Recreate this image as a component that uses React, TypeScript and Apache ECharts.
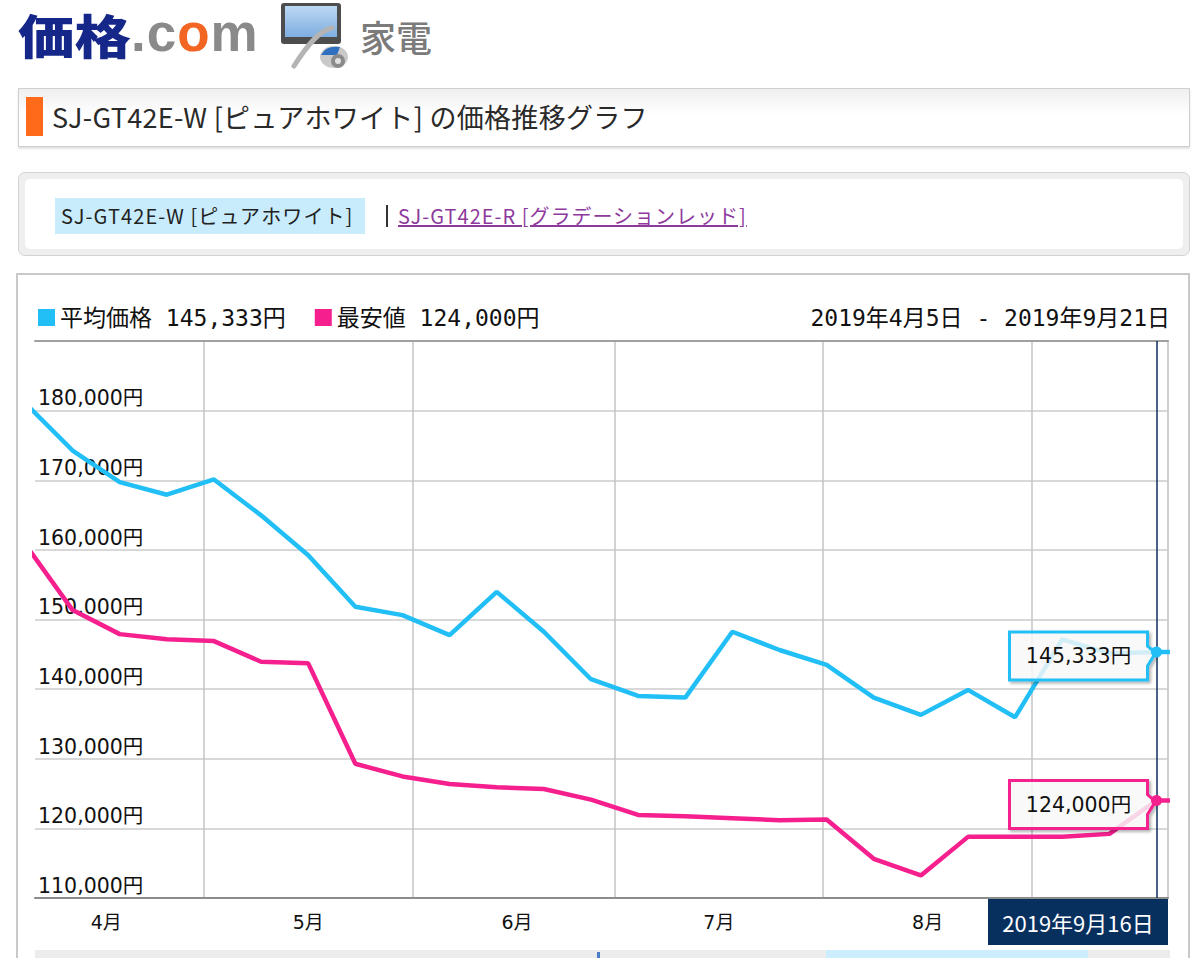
import * as echarts from 'echarts';
import { useEffect, useRef } from 'react';

// 週ごとの価格（2019年）
const weekDates = [
  '2019-04-04', '2019-04-11', '2019-04-18', '2019-04-25', '2019-05-02', '2019-05-09',
  '2019-05-16', '2019-05-23', '2019-05-30', '2019-06-06', '2019-06-13', '2019-06-20',
  '2019-06-27', '2019-07-04', '2019-07-11', '2019-07-18', '2019-07-25', '2019-08-01',
  '2019-08-08', '2019-08-15', '2019-08-22', '2019-08-29', '2019-09-05', '2019-09-12',
  '2019-09-19', '2019-09-21',
];
const avgPrice = [
  181050, 174270, 169730, 167920, 170110, 164960, 159230, 151820, 150630, 147760, 153970,
  148240, 141420, 139030, 138780, 148240, 145620, 143470, 138780, 136300, 139890, 135970,
  147150, 145100, 145333, 145333,
];
const minPrice = [
  160780, 151350, 147900, 147150, 146900, 143940, 143700, 129280, 127460, 126360, 125890,
  125650, 124130, 121930, 121740, 121460, 121170, 121260, 115630, 113240, 118780, 118780,
  118780, 119210, 124000, 124000,
];
const seriesNames = ['平均価格', '最安値'];
const seriesColors = ['#22bff6', '#f5208e'];
const monthStarts = ['2019-05-01', '2019-06-01', '2019-07-01', '2019-08-01', '2019-09-01'];
const monthLabelDays = ['2019-04-16', '2019-05-16', '2019-06-16', '2019-07-16', '2019-08-16'];
const rangeText = '2019年4月5日 - 2019年9月21日';
const pointerIndex = 24;
const pointerLabel = '2019年9月16日';

const day = (s: string, h = 12) => new Date(`${s}T${String(h).padStart(2, '0')}:00:00`).getTime();
const fmt = (n: number) => String(n).replace(/\B(?=(\d{3})+(?!\d))/g, ',');

const AXIS_MIN = day('2019-04-05', 22);
const AXIS_MAX = day('2019-09-21', 5);

const verdana = "'DejaVu Sans', 'Noto Sans CJK JP', sans-serif";
const gothic = "'Noto Sans CJK JP', sans-serif";
const mono = "'DejaVu Sans Mono', 'Noto Sans CJK JP', monospace";

function PriceChart() {
  const ref = useRef<HTMLDivElement | null>(null);

  useEffect(() => {
    if (!ref.current) return;
    const chart = echarts.init(ref.current, undefined, { renderer: 'svg' });
    const seriesData = [avgPrice, minPrice];
    const pTime = day(weekDates[pointerIndex]);

    chart.setOption({
      animation: false,
      title: {
        text: rangeText,
        right: 13,
        top: 26,
        textStyle: { fontSize: 23, fontWeight: 'normal', color: '#111', fontFamily: mono },
      },
      legend: {
        left: 20,
        top: 31,
        padding: 0,
        icon: 'rect',
        itemWidth: 17,
        itemHeight: 17,
        itemGap: 29,
        selectedMode: false,
        data: seriesNames,
        formatter: (name: string) => {
          const i = seriesNames.indexOf(name);
          return `${name} ${fmt(seriesData[i][pointerIndex])}円`;
        },
        textStyle: { fontSize: 23, color: '#111', fontFamily: mono },
      },
      grid: { left: 17, right: 20, top: 66, bottom: 60 },
      xAxis: [
        {
          type: 'value',
          min: AXIS_MIN,
          max: AXIS_MAX,
          axisLine: { lineStyle: { color: '#8c8c8c', width: 2 } },
          axisTick: { show: false, customValues: monthStarts.map((d) => day(d, 0)) },
          splitLine: { show: true, lineStyle: { color: '#c4c4c4', width: 1.5 } },
          axisLabel: {
            customValues: monthLabelDays.map((d) => day(d)),
            formatter: (v: number) => `${new Date(v).getMonth() + 1}月`,
            fontSize: 19,
            color: '#111',
            fontFamily: verdana,
            margin: 14,
          },
        },
        {
          type: 'value',
          position: 'top',
          min: AXIS_MIN,
          max: AXIS_MAX,
          axisLine: { show: true, lineStyle: { color: '#a0a0a0', width: 2 } },
          axisTick: { show: false },
          axisLabel: { show: false },
          splitLine: { show: false },
        },
      ],
      yAxis: [
        {
          type: 'value',
          min: 110000,
          max: 190000,
          interval: 10000,
          axisLine: { show: false },
          axisTick: { show: false },
          splitLine: { lineStyle: { color: '#d8d8d8', width: 2 } },
          axisLabel: {
            inside: true,
            showMaxLabel: false,
            align: 'left',
            verticalAlign: 'bottom',
            margin: 3,
            padding: [0, 0, 2, 0],
            formatter: (v: number) => `${fmt(v)}円`,
            fontSize: 20.5,
            color: '#111',
            fontFamily: verdana,
          },
        },
        {
          type: 'value',
          position: 'right',
          min: 110000,
          max: 190000,
          axisLine: { show: true, lineStyle: { color: '#cfcfcf', width: 2 } },
          axisTick: { show: false },
          axisLabel: { show: false },
          splitLine: { show: false },
        },
      ],
      series: seriesNames.map((name, i) => ({
        type: 'line',
        name,
        showSymbol: false,
        clip: true,
        color: seriesColors[i],
        lineStyle: { width: 4.5, color: seriesColors[i] },
        data: weekDates.map((d, k) => [day(d), seriesData[i][k]]),
        markPoint: {
          symbol: 'circle',
          symbolSize: 11,
          silent: true,
          label: { show: false },
          itemStyle: { color: seriesColors[i] },
          data: [{ coord: [pTime, seriesData[i][pointerIndex]] }],
        },
        markLine:
          i === 0
            ? {
                silent: true,
                symbol: ['none', 'none'],
                label: { show: false },
                lineStyle: { color: '#0b2f5e', width: 1.5, type: 'solid' },
                data: [{ xAxis: pTime }],
              }
            : undefined,
      })),
    });

    // 吹き出し・日付ラベル（座標は軸から変換）
    const graphics: any[] = [];
    seriesNames.forEach((_, i) => {
      const [mx, my] = chart.convertToPixel({ seriesIndex: i }, [
        pTime,
        seriesData[i][pointerIndex],
      ]) as number[];
      graphics.push({
        type: 'polygon',
        z: 4,
        shape: {
          points: [
            [mx - 147, my - 20],
            [mx - 9, my - 20],
            [mx - 9, my - 6],
            [mx - 1, my + 1],
            [mx - 9, my + 14],
            [mx - 9, my + 28],
            [mx - 147, my + 28],
          ],
        },
        style: {
          fill: 'rgba(255,255,255,0.78)',
          stroke: seriesColors[i],
          lineWidth: 3,
          shadowBlur: 3,
          shadowOffsetX: 2,
          shadowOffsetY: 2,
          shadowColor: 'rgba(0,0,0,0.3)',
        },
      });
      graphics.push({
        type: 'text',
        z: 4,
        x: mx - 78,
        y: my + 4,
        style: {
          text: `${fmt(seriesData[i][pointerIndex])}円`,
          fill: '#111',
          fontSize: 20.5,
          fontFamily: verdana,
          align: 'center',
          verticalAlign: 'middle',
        },
      });
    });

    const [px, axisY] = chart.convertToPixel({ xAxisIndex: 0, yAxisIndex: 0 }, [pTime, 110000]) as number[];
    const [gridRight] = chart.convertToPixel({ xAxisIndex: 0, yAxisIndex: 0 }, [AXIS_MAX, 110000]) as number[];
    const boxW = 180;
    const boxRight = Math.min(px + boxW / 2, gridRight);
    graphics.push({
      type: 'group',
      z: 4,
      children: [
        {
          type: 'rect',
          shape: { x: boxRight - boxW, y: axisY, width: boxW, height: 47 },
          style: { fill: '#08305f' },
        },
        {
          type: 'text',
          x: boxRight - boxW / 2,
          y: axisY + 24,
          style: {
            text: pointerLabel,
            fill: '#fff',
            fontSize: 22,
            fontFamily: gothic,
            align: 'center',
            verticalAlign: 'middle',
          },
        },
      ],
    });

    // 下部の期間スライダー（一部のみ見えている）
    graphics.push(
      { type: 'rect', shape: { x: 17, y: 675, width: 1135, height: 10 }, style: { fill: '#ececec' } },
      { type: 'rect', shape: { x: 808, y: 675, width: 262, height: 10 }, style: { fill: '#cdeefc' } },
      { type: 'rect', shape: { x: 579, y: 677, width: 3, height: 8 }, style: { fill: '#4a7fc8' } },
    );

    chart.setOption({ graphic: graphics });

    return () => {
      chart.dispose();
    };
  }, []);

  return <div ref={ref} style={{ width: 1170, height: 683 }} />;
}

export default function App() {
  return (
    <div
      style={{
        position: 'fixed',
        inset: 0,
        background: '#fff',
        overflow: 'hidden',
        fontFamily: gothic,
        color: '#222',
      }}
    >
      {/* ロゴ */}
      <div
        style={{
          position: 'absolute',
          left: 18,
          top: 6,
          color: '#15288a',
          fontSize: 47,
          lineHeight: '56px',
          fontWeight: 900,
          transform: 'scaleX(1.2)',
          transformOrigin: 'left center',
          whiteSpace: 'nowrap',
        }}
      >
        価格
      </div>
      <div
        style={{
          position: 'absolute',
          left: 131,
          top: 1,
          fontFamily: "'Liberation Sans', Arial, sans-serif",
          fontWeight: 700,
          fontSize: 53,
          lineHeight: '64px',
          color: '#8a8a8a',
          letterSpacing: 1,
          whiteSpace: 'nowrap',
        }}
      >
        .c<span style={{ color: '#f26522' }}>o</span>m
      </div>
      <svg style={{ position: 'absolute', left: 280, top: 2 }} width="70" height="68" viewBox="0 0 70 68">
        <defs>
          <linearGradient id="scr" x1="0" y1="0" x2="0" y2="1">
            <stop offset="0" stopColor="#bcd8f3" />
            <stop offset="1" stopColor="#7eaee0" />
          </linearGradient>
        </defs>
        <rect x="1" y="1" width="60" height="41" rx="3" fill="#4d4d4d" />
        <rect x="5" y="4" width="52" height="31" fill="url(#scr)" />
        <path d="M52 26 C40 28 28 42 14 64" stroke="#b4b4b4" strokeWidth="5" fill="none" strokeLinecap="round" />
        <ellipse cx="54" cy="55" rx="14" ry="11" fill="#c9c9c9" />
        <path d="M41 53 Q46 43 60 45 L57 53 Z" fill="#2f6fc0" />
        <circle cx="58" cy="59" r="7" fill="#8a8a8a" />
        <circle cx="58" cy="59" r="3" fill="#e0e0e0" />
      </svg>
      <div style={{ position: 'absolute', left: 360, top: 16, fontSize: 36, lineHeight: '40px', color: '#7b7b7b', fontWeight: 500 }}>
        家電
      </div>

      {/* タイトルバー */}
      <div
        style={{
          position: 'absolute',
          left: 18,
          top: 88,
          width: 1172,
          height: 59,
          boxSizing: 'border-box',
          border: '1px solid #cfcfcf',
          background: 'linear-gradient(#efefef, #fff 45%)',
          boxShadow: '0 2px 2px #e2e2e2',
        }}
      >
        <div style={{ position: 'absolute', left: 7, top: 8, width: 17, height: 39, background: '#ff6a1a' }} />
        <div style={{ position: 'absolute', left: 33, top: 9, fontSize: 27, lineHeight: '38px', color: '#2a2a2a', whiteSpace: 'nowrap', letterSpacing: 0.3 }}>
          SJ-GT42E-W [ピュアホワイト] の価格推移グラフ
        </div>
      </div>

      {/* 色違いタブ */}
      <div
        style={{
          position: 'absolute',
          left: 18,
          top: 172,
          width: 1172,
          height: 84,
          boxSizing: 'border-box',
          border: '1px solid #d2d2d2',
          borderRadius: 7,
          background: '#efefef',
          padding: 6,
        }}
      >
        <div style={{ width: '100%', height: '100%', background: '#fff', borderRadius: 5 }} />
      </div>
      <div
        style={{
          position: 'absolute',
          left: 55,
          top: 198,
          width: 310,
          height: 36,
          background: '#c8ecfb',
          fontSize: 20,
          lineHeight: '36px',
          letterSpacing: 1.1,
          paddingLeft: 6,
          boxSizing: 'border-box',
          color: '#222',
          whiteSpace: 'nowrap',
        }}
      >
        SJ-GT42E-W [ピュアホワイト]
      </div>
      <div style={{ position: 'absolute', left: 386, top: 205, width: 2, height: 22, background: '#333' }} />
      <div
        style={{
          position: 'absolute',
          left: 398,
          top: 198,
          fontSize: 20,
          lineHeight: '36px',
          letterSpacing: 1,
          color: '#8e3a9d',
          textDecoration: 'underline',
          whiteSpace: 'nowrap',
        }}
      >
        SJ-GT42E-R [グラデーションレッド]
      </div>

      {/* グラフパネル */}
      <div
        style={{
          position: 'absolute',
          left: 16,
          top: 273,
          width: 1174,
          height: 720,
          boxSizing: 'border-box',
          border: '2px solid #c9c9c9',
        }}
      >
        <PriceChart />
      </div>
    </div>
  );
}
